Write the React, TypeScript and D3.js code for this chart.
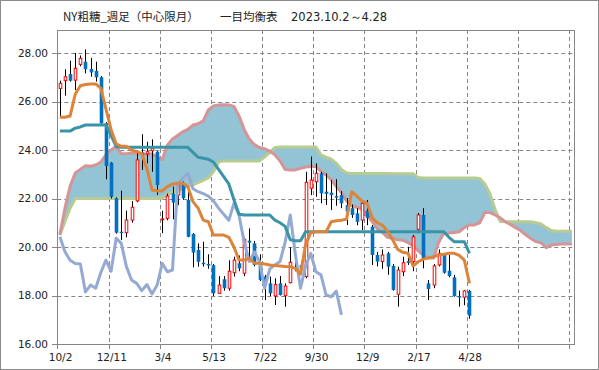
import React from "react";
import * as d3 from "d3";

// ---- data (weekly, category index 0 = 2023/10/2) ----
const tickLabels = ["10/2", "12/11", "3/4", "5/13", "7/22", "9/30", "12/9", "2/17", "4/28"];
const tickIndex = [0, 10, 20, 30, 40, 50, 60, 70, 80];
const yTicks = [16, 18, 20, 22, 24, 26, 28];

const openV = [
  26.54, 26.86, 27.13, 26.88, 27.53, 27.64, 27.34, 27.26, 27.0, 25.1,
  23.48, 22.01, 20.63, 20.59, 21.11, 21.9, 23.9, 23.84, 23.97, 23.93,
  21.12, 21.18, 22.21, 22.14, 22.63, 21.94, 20.54, 19.88, 19.35, 19.3,
  19.25, 18.09, 18.67, 18.3, 18.94, 19.33, 18.92, 20.26, 20.15, 19.33,
  18.78, 18.5, 17.98, 18.5, 17.99, 18.53, 19.16, 19.26, 18.78, 22.42,
  22.69, 23.04, 22.28, 22.24, 22.1, 22.14, 21.73, 21.6, 21.39, 21.11,
  21.5, 20.84, 19.67, 19.4, 19.74, 19.22, 18.05, 18.98, 19.42, 19.4,
  20.73, 21.32, 18.5, 18.43, 19.26, 19.67, 19.02, 18.75, 17.98, 17.93,
  18.19,
];
const highV = [
  26.86, 27.33, 27.68, 28.0, 27.9, 28.15, 27.8, 27.64, 27.05, 25.15,
  23.5, 22.05, 22.32, 21.5, 21.9, 23.93, 24.65, 24.34, 24.44, 23.95,
  21.5, 22.2, 22.49, 22.69, 22.7, 22.3, 20.57, 20.15, 20.22, 19.7,
  19.3, 18.8, 18.8, 19.45, 19.6, 19.65, 20.4, 20.77, 20.25, 19.7,
  18.85, 18.78, 18.71, 18.8, 18.5, 19.99, 19.5, 19.4, 23.1, 23.73,
  23.45, 23.1, 23.04, 22.76, 22.8, 22.3, 22.02, 21.75, 21.6, 21.87,
  21.94, 20.9, 19.8, 19.9, 19.8, 19.3, 19.19, 19.6, 20.01, 20.5,
  21.4, 21.6, 18.64, 19.3, 19.9, 19.75, 19.67, 18.85, 18.2, 18.23,
  18.23,
];
const lowV = [
  25.35, 26.24, 26.82, 26.47, 27.45, 27.16, 27.02, 26.82, 25.05, 22.79,
  22.0, 20.55, 20.29, 20.4, 21.0, 21.85, 23.18, 23.45, 23.1, 22.14,
  20.57, 21.1, 21.14, 21.73, 21.95, 20.4, 19.16, 19.19, 19.19, 19.1,
  17.98, 18.06, 18.2, 18.2, 18.78, 19.0, 18.8, 19.46, 19.2, 18.6,
  17.81, 17.98, 17.61, 18.0, 17.54, 18.5, 19.0, 18.9, 18.71, 22.14,
  22.07, 21.8, 21.73, 21.53, 21.7, 21.6, 20.91, 21.2, 20.9, 20.7,
  20.9, 19.26, 19.2, 19.1, 18.85, 18.2, 17.54, 18.8, 19.26, 19.0,
  20.57, 19.12, 17.81, 18.3, 19.2, 18.9, 18.75, 17.95, 17.54, 17.6,
  17.04,
];
const closeV = [
  26.75, 27.02, 26.86, 27.37, 27.78, 27.33, 27.2, 27.0, 25.1, 23.34,
  22.07, 20.59, 20.57, 21.11, 21.64, 23.59, 23.8, 23.93, 24.07, 22.56,
  21.16, 22.1, 21.83, 22.56, 22.01, 20.42, 19.77, 19.39, 19.3, 19.25,
  18.09, 18.43, 18.3, 19.0, 19.46, 19.12, 20.32, 20.18, 19.26, 18.64,
  18.57, 18.09, 18.45, 18.02, 18.39, 19.37, 19.12, 19.05, 22.67, 22.76,
  23.04, 22.21, 22.19, 22.14, 22.05, 21.8, 21.46, 21.32, 21.04, 21.8,
  21.2, 19.67, 19.4, 19.67, 19.19, 18.23, 19.05, 19.35, 19.35, 20.42,
  21.32, 19.46, 18.27, 19.22, 19.74, 18.94, 18.8, 17.98, 17.93, 18.19,
  17.17,
];

// 転換線
const tenkan = [
  25.35, 25.35, 25.4, 26.3, 26.65, 26.7, 26.72, 26.72, 26.55, 25.7,
  24.85, 24.25, 24.15, 24.15, 24.0, 23.93, 23.85, 23.24, 22.35, 22.31,
  22.31, 22.49, 22.59, 22.63, 22.63, 22.49, 21.87, 21.6, 21.11, 21.04,
  20.49, 20.49, 20.49, 20.4, 20.0, 19.46, 19.46, 19.53, 19.33, 19.33,
  19.3, 19.26, 19.24, 19.22, 19.2, 19.19, 19.12, 18.88, 20.1, 20.59,
  20.63, 20.63, 20.63, 21.04, 21.08, 21.1, 21.15, 22.28, 22.1, 21.9,
  21.8, 21.2, 21.0, 20.9, 20.65, 20.3, 19.9, 19.78, 19.74, 19.22,
  19.39, 19.5, 19.55, 19.6, 19.67, 19.7, 19.74, 19.74, 19.65, 19.46,
  18.5,
];
// 基準線
const kijun = [
  24.78, 24.78, 24.78, 24.9, 24.95, 25.03, 25.03, 25.03, 25.03, 25.03,
  24.6, 24.14, 24.11, 24.11, 24.11, 24.11, 24.11, 24.11, 24.11, 24.11,
  24.11, 24.11, 24.11, 24.11, 24.11, 24.11, 23.9, 23.7, 23.66, 23.62,
  23.5, 23.2, 22.9, 22.6, 21.95, 21.35, 21.32, 21.32, 21.32, 21.32,
  21.32, 21.32, 21.11, 21.0, 20.85, 20.3, 20.26, 20.26, 20.63, 20.63,
  20.63, 20.63, 20.63, 20.63, 20.63, 20.63, 20.63, 20.63, 20.63, 20.63,
  20.63, 20.63, 20.63, 20.63, 20.63, 20.63, 20.63, 20.63, 20.63, 20.63,
  20.63, 20.63, 20.63, 20.63, 20.63, 20.63, 20.4, 20.22, 20.22, 20.22,
  19.74,
];
// 先行スパン1
const senkouA = [
  20.5, 21.6, 22.5, 23.05, 23.2, 23.35, 23.33, 23.38, 23.5, 23.8,
  24.0, 24.15, 23.85, 23.85, 23.88, 23.86, 23.85, 23.8, 23.85, 23.7,
  23.6, 24.2, 24.45, 24.6, 24.75, 24.85, 25.03, 25.08, 25.2, 25.65,
  25.82, 25.86, 25.87, 25.86, 25.8, 25.4, 24.85, 24.45, 24.22, 24.1,
  24.05, 23.95, 23.8, 23.55, 23.2, 23.18, 23.18, 23.24, 23.3, 23.32,
  23.32, 23.12, 22.97, 22.78, 22.49, 22.25, 21.9, 21.7, 21.64, 21.55,
  21.3, 21.05, 20.75, 20.6, 20.4, 20.35, 20.3, 20.28, 20.18, 20.05,
  19.85, 19.65, 19.55, 19.55, 20.2, 20.57, 20.58, 20.6, 20.63, 20.8,
  20.91, 20.91, 21.0, 21.42, 21.42, 21.32, 21.2, 21.04, 20.93, 20.8,
  20.68, 20.5, 20.35, 20.22, 20.17, 19.97, 20.08, 20.1, 20.12, 20.12,
  20.12,
];
// 先行スパン2
const senkouB = [
  20.5, 21.05, 21.6, 22.0, 22.0, 22.0, 22.0, 22.0, 22.0, 22.0,
  22.0, 22.0, 22.0, 22.0, 22.0, 22.0, 22.0, 22.0, 22.0, 22.0,
  22.02, 22.15, 22.25, 22.33, 22.42, 22.5, 22.56, 22.65, 22.75, 22.85,
  23.1, 23.5, 23.55, 23.55, 23.55, 23.55, 23.55, 23.55, 23.55, 23.55,
  23.72, 23.9, 24.1, 24.12, 24.12, 24.12, 24.12, 24.12, 24.12, 24.12,
  24.12, 23.8, 23.7, 23.62, 23.45, 23.2, 23.05, 23.03, 23.03, 23.03,
  23.03, 23.03, 23.03, 23.03, 23.03, 23.02, 23.02, 23.02, 23.02, 23.02,
  22.87, 22.85, 22.85, 22.85, 22.85, 22.85, 22.85, 22.85, 22.85, 22.85,
  22.85, 22.85, 22.83, 22.6, 22.2, 21.55, 21.05, 21.04, 21.04, 21.04,
  21.04, 21.04, 21.04, 21.0, 20.95, 20.8, 20.68, 20.65, 20.65, 20.65,
  20.65,
];
// 遅行スパン
const chikou = [
  20.42, 19.8, 19.45, 19.32, 19.3, 18.15, 18.43, 18.3, 18.95, 19.46,
  19.0, 20.36, 20.15, 19.19, 18.64, 18.5, 18.2, 18.45, 18.06, 18.43,
  19.33, 18.98, 19.05, 22.55, 22.85, 23.04, 22.4, 22.28, 22.2, 22.1,
  21.9, 21.6, 21.35, 21.1, 21.8, 21.3, 20.2, 19.4, 19.8, 19.4,
  18.3, 19.1, 19.26, 19.4, 20.2, 21.32, 19.7, 18.3, 19.22, 19.74,
  18.98, 18.85, 18.02, 17.95, 18.18, 17.2,
];

const W = 599;
const H = 370;
const plotLeft = 57.3;
const plotTop = 30;
const plotBottom = 344;
const nCat = 101;
const step = 5.12;
const plotRight = plotLeft + nCat * step;

const xc = d3.scaleLinear().domain([-0.5, nCat - 0.5]).range([plotLeft, plotRight]);
const y = d3.scaleLinear().domain([16, 28]).range([plotBottom, 53]);

const gridColor = "#868686";
const numFont = "'DejaVu Sans', sans-serif";

function linePath(arr: number[]) {
  return (
    d3
      .line<number>()
      .x((_, i) => xc(i))
      .y((d) => y(d))(arr) || ""
  );
}

export default function App() {
  const cloud =
    d3
      .area<number>()
      .x((_, i) => xc(i))
      .y0((_, i) => y(senkouB[i]))
      .y1((d) => y(d))(senkouA) || "";

  const bw = 3.6;
  const vGrid = d3.range(10, nCat, 10).map((i) => xc(i - 0.5));

  return (
    <svg
      width={W}
      height={H}
      style={{ position: "absolute", left: 0, top: 0, background: "#fff" }}
    >
      <rect x={0.5} y={0.5} width={W - 1} height={H - 1} fill="#fff" stroke="#8c8c8c" />
      <text
        x={63}
        y={21}
        fontFamily="'Noto Sans CJK JP', sans-serif"
        fontSize={11.5}
        fill="#222"
      >
        <tspan>NY粗糖_週足（中心限月）</tspan>
        <tspan x={220}>一目均衡表</tspan>
        <tspan x={291} fontFamily={numFont} fontSize={11.5}>
          2023.10.2～4.28
        </tspan>
      </text>

      {/* grid */}
      {yTicks
        .filter((t) => t > 16)
        .map((t) => (
          <line
            key={"hg" + t}
            x1={plotLeft}
            x2={plotRight}
            y1={Math.round(y(t)) + 0.5}
            y2={Math.round(y(t)) + 0.5}
            stroke={gridColor}
            strokeDasharray="4,3"
          />
        ))}
      {vGrid.map((gx, k) => (
        <line
          key={"vg" + k}
          x1={Math.round(gx) + 0.5}
          x2={Math.round(gx) + 0.5}
          y1={plotTop}
          y2={plotBottom}
          stroke={gridColor}
          strokeDasharray="4,3"
        />
      ))}

      {/* cloud */}
      <path d={cloud} fill="#93c4d6" stroke="none" />
      <path d={linePath(senkouB)} fill="none" stroke="#b8cc91" strokeWidth={3} strokeLinejoin="round" />
      <path d={linePath(senkouA)} fill="none" stroke="#d59496" strokeWidth={3} strokeLinejoin="round" />

      {/* candles */}
      {closeV.map((c, i) => {
        const o = openV[i];
        const cx = Math.round(xc(i)) + 0.5;
        const up = c >= o;
        const top = y(Math.max(o, c));
        const bot = y(Math.min(o, c));
        return (
          <g key={"c" + i}>
            <line x1={cx} x2={cx} y1={y(highV[i])} y2={y(lowV[i])} stroke="#000" strokeWidth={1} />
            {up ? (
              <rect
                x={cx - bw / 2 + 0.5}
                y={top}
                width={bw - 1}
                height={Math.max(1, bot - top)}
                fill="#fff"
                stroke="#ff0000"
                strokeWidth={1}
              />
            ) : (
              <rect
                x={cx - bw / 2}
                y={top}
                width={bw}
                height={Math.max(1.5, bot - top)}
                fill="#0070c0"
              />
            )}
          </g>
        );
      })}

      {/* lines */}
      <path d={linePath(chikou)} fill="none" stroke="#95aad3" strokeWidth={3} strokeLinejoin="round" />
      <path d={linePath(kijun)} fill="none" stroke="#3a94a8" strokeWidth={3} strokeLinejoin="round" />
      <path d={linePath(tenkan)} fill="none" stroke="#dc8439" strokeWidth={3} strokeLinejoin="round" />

      {/* frame & axes */}
      <rect
        x={Math.round(plotLeft) + 0.5}
        y={plotTop + 0.5}
        width={Math.round(plotRight) - Math.round(plotLeft)}
        height={plotBottom - plotTop}
        fill="none"
        stroke={gridColor}
      />
      {yTicks.map((t) => (
        <g key={"yt" + t}>
          <line
            x1={Math.round(plotLeft) - 5}
            x2={Math.round(plotLeft)}
            y1={Math.round(y(t)) + 0.5}
            y2={Math.round(y(t)) + 0.5}
            stroke={gridColor}
          />
          <text
            x={48}
            y={y(t) + 3.8}
            textAnchor="end"
            fontFamily={numFont}
            fontSize={10.5}
            fill="#222"
          >
            {t.toFixed(2)}
          </text>
        </g>
      ))}
      {[xc(-0.5), ...vGrid].map((gx, k) => (
        <line
          key={"xt" + k}
          x1={Math.round(gx) + 0.5}
          x2={Math.round(gx) + 0.5}
          y1={plotBottom}
          y2={plotBottom + 5}
          stroke={gridColor}
        />
      ))}
      {tickLabels.map((lab, k) => (
        <text
          key={"xl" + k}
          x={xc(tickIndex[k]) + 0.7}
          y={361}
          textAnchor="middle"
          fontFamily={numFont}
          fontSize={10.5}
          fill="#222"
        >
          {lab}
        </text>
      ))}
    </svg>
  );
}
